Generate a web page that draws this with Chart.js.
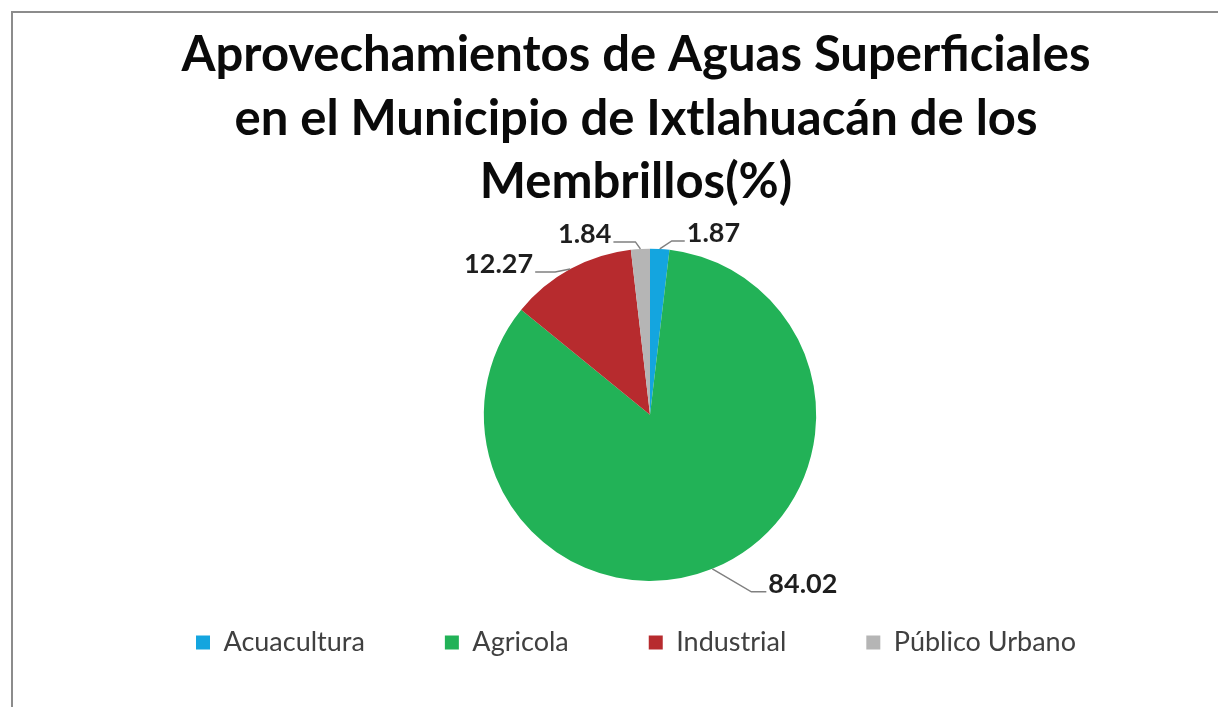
<!DOCTYPE html>
<html>
<head>
<meta charset="utf-8">
<script src="https://cdn.jsdelivr.net/npm/chart.js@4/dist/chart.umd.min.js"></script>
<style>
  html, body { margin: 0; padding: 0; background: #fff; overflow: hidden; }
  #wrap { position: relative; width: 1218px; height: 707px; }
  #frame { position: absolute; left: 11px; top: 11px; width: 1230px; height: 720px;
           border-left: 2px solid #8c8c8c; border-top: 2px solid #8c8c8c; }
  canvas { position: absolute; left: 0; top: 0; }
</style>
</head>
<body>
<div id="wrap">
  <div id="frame"></div>
  <canvas id="pie" width="1218" height="707"></canvas>
</div>
<script>
const titleLines = ['Aprovechamientos de Aguas Superficiales', 'en el Municipio de Ixtlahuacán de los', 'Membrillos(%)'];
const categories = ['Acuacultura', 'Agricola', 'Industrial', 'Público Urbano'];
const values = [1.87, 84.02, 12.27, 1.84];
const colors = ['#14a5df', '#22b257', '#b72b2e', '#b5b5b5'];

// leader line: elbow offset from slice edge [dx, dy], then horizontal run
const leaderOffsets = [[12, -8, 13], [39, 23, 15], [-15, 3, 20], [-5, -7, 22]];

// Excel puts the pie a bit right of the title/legend centre and lower than the legend allows
const shiftArea = {
  id: 'shiftArea',
  afterLayout(chart) {
    const a = chart.chartArea;
    a.left += 14; a.right += 14;
    a.bottom += 32;
    a.width = a.right - a.left;
    a.height = a.bottom - a.top;
  }
};

const leaderLabels = {
  id: 'leaderLabels',
  afterDatasetsDraw(chart) {
    const ctx = chart.ctx;
    chart.getDatasetMeta(0).data.forEach((arc, i) => {
      const p = arc.getProps(['x', 'y', 'startAngle', 'endAngle', 'outerRadius'], true);
      const mid = (p.startAngle + p.endAngle) / 2;
      const ex = p.x + Math.cos(mid) * p.outerRadius;
      const ey = p.y + Math.sin(mid) * p.outerRadius;
      const [dx, dy, run] = leaderOffsets[i];
      const side = Math.cos(mid) >= 0 ? 1 : -1;
      const kx = ex + dx, ky = ey + dy;
      const hx = kx + side * run;
      ctx.save();
      ctx.strokeStyle = '#808080';
      ctx.lineWidth = 1.5;
      ctx.beginPath();
      ctx.moveTo(ex, ey);
      ctx.lineTo(kx, ky);
      ctx.lineTo(hx, ky);
      ctx.stroke();
      ctx.fillStyle = '#1e1e1e';
      ctx.font = 'bold 27px Lato';
      ctx.textBaseline = 'middle';
      ctx.textAlign = side > 0 ? 'left' : 'right';
      ctx.fillText(values[i].toFixed(2), hx + side * 2, ky - 8);
      ctx.restore();
    });
  }
};

new Chart(document.getElementById('pie'), {
  type: 'pie',
  data: {
    labels: categories,
    datasets: [{ data: values, backgroundColor: colors, borderWidth: 0 }]
  },
  options: {
    responsive: false,
    animation: false,
    layout: { padding: { top: 24, bottom: 41, left: 54, right: 0 } },
    plugins: {
      title: {
        display: true,
        text: titleLines,
        color: '#0a0a0a',
        font: { family: 'Lato', size: 49, weight: 'bold', lineHeight: 1.29 },
        padding: { top: 0, bottom: 35 }
      },
      legend: {
        position: 'bottom',
        labels: {
          color: '#404040',
          font: { family: 'Lato', size: 27 },
          boxWidth: 14,
          boxHeight: 14,
          padding: 80
        }
      },
      tooltip: { enabled: false }
    }
  },
  plugins: [shiftArea, leaderLabels]
});
</script>
</body>
</html>
